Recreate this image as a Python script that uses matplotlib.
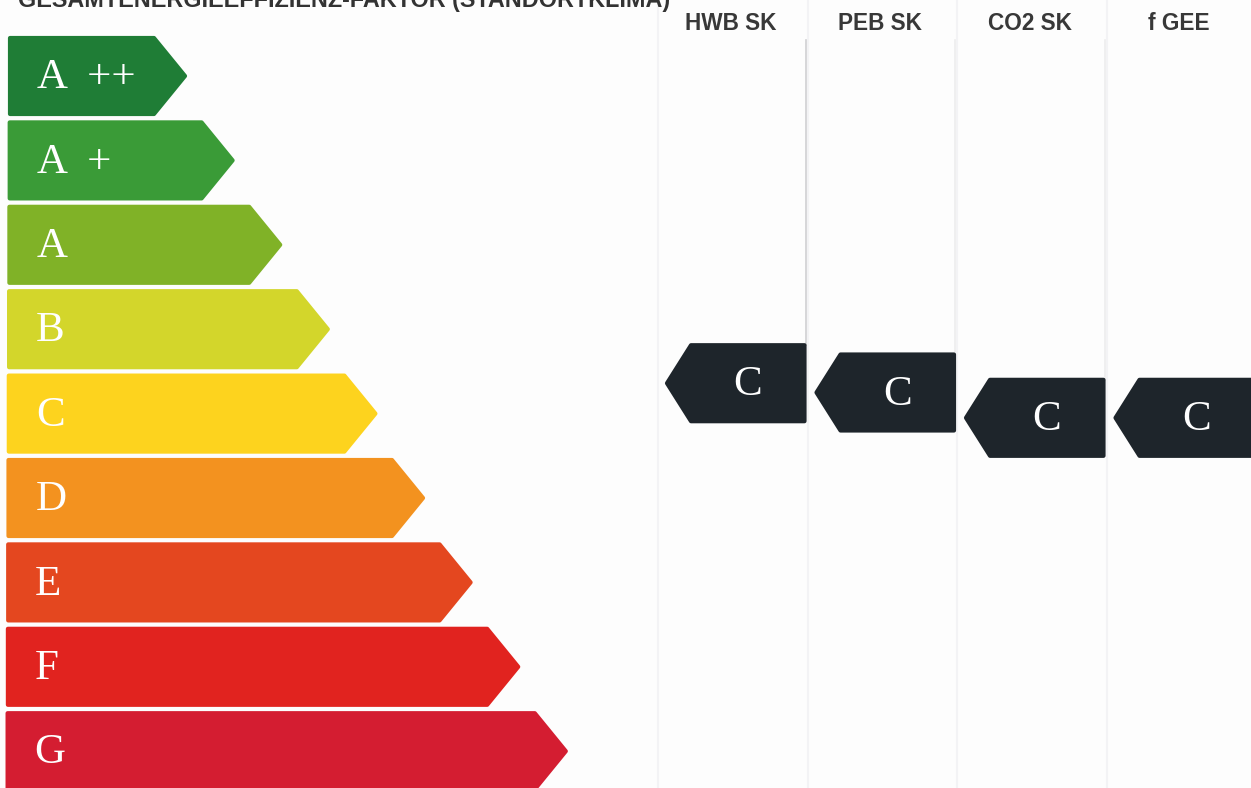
import matplotlib.pyplot as plt
from matplotlib.patches import Polygon

# energy classes, top to bottom
classes = ["A ++", "A +", "A", "B", "C", "D", "E", "F", "G"]
class_colors = ["#1f7d36", "#3a9b37", "#80b227", "#d3d62b", "#fdd31e",
                "#f3921f", "#e4471f", "#e1231f", "#d41d31"]

# indicator columns and their rating (position in class-row units, 0 = A++)
columns = ["HWB SK", "PEB SK", "CO2 SK", "f GEE"]
ratings = ["C", "C", "C", "C"]
positions = [3.64, 3.75, 4.05, 4.05]

title = "GESAMTENERGIEEFFIZIENZ-FAKTOR (STANDORTKLIMA)"

W, H = 1251, 788
fig = plt.figure(figsize=(W / 100, H / 100), dpi=100)
ax = fig.add_axes([0, 0, 1, 1])
ax.set_xlim(0, W)
ax.set_ylim(H, 0)
ax.axis("off")
fig.patch.set_facecolor("#fdfdfd")

row0 = 76.0
pitch = 84.4
half = 38.0
serif = ["Liberation Serif", "DejaVu Serif"]
sans = ["Liberation Sans", "DejaVu Sans"]

# faint column grid
col_left = 658
col_w = 149.5
for k in range(len(columns) + 1):
    x = col_left + k * col_w
    ax.plot([x, x], [0, H], color="#f3f3f5", lw=1.5, zorder=0)

# class arrows on the left
for i, (lab, col) in enumerate(zip(classes, class_colors)):
    yc = row0 + i * pitch
    left = 10 - i * 0.3
    tip = 185 + i * 47.6
    depth = 31
    pts = [(left, yc - half), (tip - depth, yc - half), (tip, yc),
           (tip - depth, yc + half), (left, yc + half)]
    ax.add_patch(Polygon(pts, closed=True, facecolor=col, edgecolor=col,
                         lw=3, joinstyle="round", zorder=2))
    ax.text(left + 27, yc + 2, lab.replace(" ", "  "), color="white",
            fontsize=31, family=serif, ha="left", va="center", zorder=3)

# column headers
for k, name in enumerate(columns):
    xc = col_left + (k + 0.5) * col_w - 2
    ax.text(xc, 23, name, color="#383838", fontsize=16.3, fontweight="bold",
            family=sans, ha="center", va="center", zorder=3)

# title (cut by the top edge, as in the scan)
ax.text(18, 7, title, color="#333333", fontsize=16.8, fontweight="bold",
        family=sans, ha="left", va="baseline", zorder=3)

# rating markers
line_alpha = [1.0, 0.35, 0.35, 0.8]
for k, (r, p) in enumerate(zip(ratings, positions)):
    yc = row0 + p * pitch
    right = col_left + (k + 1) * col_w - 3
    tipx = col_left + k * col_w + 9
    depth = 24
    pts = [(right, yc - half), (tipx + depth, yc - half), (tipx, yc),
           (tipx + depth, yc + half), (right, yc + half)]
    ax.add_patch(Polygon(pts, closed=True, facecolor="#1e252b",
                         edgecolor="#1e252b", lw=3, joinstyle="round", zorder=2))
    ax.plot([right + 1, right + 1], [40, yc - half], color="#d0d0d2",
            lw=1.2, alpha=line_alpha[k], zorder=1)
    ax.text((right + tipx + depth) / 2, yc + 2, r, color="white", fontsize=31,
            family=serif, ha="center", va="center", zorder=3)

fig.savefig("out.png", dpi=100, facecolor=fig.get_facecolor())
